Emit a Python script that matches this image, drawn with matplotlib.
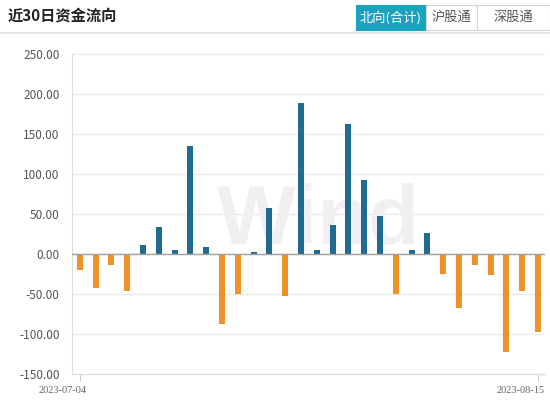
import matplotlib
matplotlib.use("Agg")
import matplotlib.pyplot as plt
from matplotlib.patches import Rectangle
import numpy as np

plt.rcParams['font.family'] = ['Noto Sans CJK SC', 'DejaVu Sans']

# net northbound flow per trading day (100m CNY)
flows = [-20, -42, -14, -46, 11, 34, 5, 135, 9, -88,
         -50, 2, 58, -52, 189, 5, 36, 163, 92, 47,
         -50, 5, 26, -25, -68, -14, -26, -123, -46, -98]
first_date = "2023-07-04"
last_date = "2023-08-15"
yticks = [-150, -100, -50, 0, 50, 100, 150, 200, 250]
title = "近30日资金流向"
tabs = ["北向(合计)", "沪股通", "深股通"]

blue = '#1f6b92'
orange = '#ee9127'

fig = plt.figure(figsize=(5.5, 4), dpi=100)
W, H = 550.0, 400.0

# ---- header ----
fig.text(8 / W, 1 - 16 / H, title, fontsize=11, fontweight='bold',
         color='#222222', va='center', ha='left')
tab_edges = [356, 426, 477, 550]
for i, t in enumerate(tabs):
    x0, x1 = tab_edges[i], tab_edges[i + 1]
    filled = (i == 0)
    fig.patches.append(Rectangle((x0 / W, 1 - 30 / H), (x1 - x0) / W, 25 / H,
                                 transform=fig.transFigure,
                                 facecolor='#1ba3bd' if filled else 'white',
                                 edgecolor='#1ba3bd' if filled else '#d5d5d5',
                                 linewidth=0.8))
    fig.text((x0 + x1) / 2 / W, 1 - 17.5 / H, t, fontsize=9.5,
             color='white' if filled else '#555555', ha='center', va='center')
fig.add_artist(plt.Line2D([0, 1], [1 - 33 / H, 1 - 33 / H],
                          transform=fig.transFigure, color='#dddddd', lw=1.2))

# ---- chart ----
ax = fig.add_axes([72 / W, 1 - 374 / H, (545 - 72) / W, (374 - 54) / H])
x = np.arange(len(flows))
colors = [blue if v >= 0 else orange for v in flows]
ax.bar(x, flows, width=0.38, color=colors, zorder=3)

ax.set_xlim(-0.5, len(flows) - 1 + 0.45)
ax.set_ylim(-150, 250)
ax.set_yticks(yticks)
ax.set_yticklabels([f"{v:.2f}" for v in yticks], fontsize=8.5, color='#555555')
ax.tick_params(axis='y', length=0, pad=9)
for v in yticks[1:]:
    ax.axhline(v, color='#e8e8e8', lw=0.9, zorder=1)
ax.axhline(0, color='#a0a0a0', lw=1.0, zorder=4)

for s in ['top', 'right']:
    ax.spines[s].set_visible(False)
ax.spines['left'].set_color('#dddddd')
ax.spines['bottom'].set_color('#dddddd')
ax.spines['bottom'].set_linewidth(1.0)

ax.set_xticks([0, len(flows) - 1])
ax.set_xticklabels(['', ''])
ax.tick_params(axis='x', length=5, color='#cccccc')
for xi, lab in [(0, first_date), (len(flows) - 1, last_date)]:
    ax.annotate(lab, xy=(xi, 0), xycoords=ax.get_xaxis_transform(),
                xytext=(5, -12), textcoords='offset points',
                fontsize=7.5, color='#666666', ha='right', va='center',
                family=['Liberation Serif', 'DejaVu Serif'])

# watermark
ax.text(0.3066, 0.409, "Wind", transform=ax.transAxes, fontsize=60,
        fontweight='bold', family=['Liberation Sans', 'DejaVu Sans'],
        color='#f0f0f0', ha='left', va='baseline', zorder=2)

fig.savefig("out.png", dpi=100, facecolor='white')
